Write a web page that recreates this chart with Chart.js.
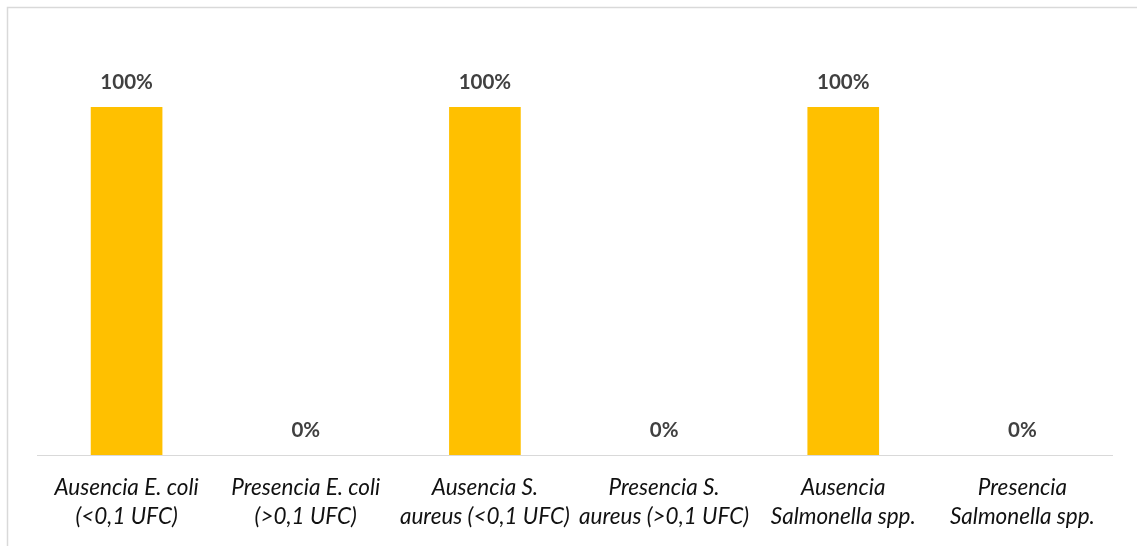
<!DOCTYPE html>
<html>
<head>
<meta charset="utf-8">
<script src="https://cdn.jsdelivr.net/npm/chart.js@4/dist/chart.umd.min.js"></script>
<style>
  html, body { margin: 0; padding: 0; background: #ffffff; }
  #wrap { width: 1137px; height: 546px; position: relative; }
</style>
</head>
<body>
<div id="wrap"><canvas id="c" width="1137" height="546"></canvas></div>
<script>
// Categories (two-line labels) and percentages
const categories = [
  ['Ausencia E. coli', '(<0,1 UFC)'],
  ['Presencia E. coli', '(>0,1 UFC)'],
  ['Ausencia S.', 'aureus (<0,1 UFC)'],
  ['Presencia S.', 'aureus (>0,1 UFC)'],
  ['Ausencia', 'Salmonella spp.'],
  ['Presencia', 'Salmonella spp.']
];
const percentages = [100, 0, 100, 0, 100, 0];

// Outer frame of the chart
const framePlugin = {
  id: 'frame',
  beforeDraw(chart) {
    const ctx = chart.ctx;
    ctx.save();
    ctx.strokeStyle = '#d9d9d9';
    ctx.lineWidth = 1.5;
    ctx.strokeRect(7.5, 7.5, chart.width + 20, chart.height + 20);
    ctx.restore();
  }
};

// Value labels above each bar
const valueLabels = {
  id: 'valueLabels',
  afterDatasetsDraw(chart) {
    const ctx = chart.ctx;
    const meta = chart.getDatasetMeta(0);
    ctx.save();
    ctx.font = 'bold 20.5px Lato, "Open Sans", sans-serif';
    ctx.fillStyle = '#404040';
    ctx.textAlign = 'center';
    ctx.textBaseline = 'middle';
    meta.data.forEach((bar, i) => {
      ctx.fillText(percentages[i] + '%', bar.x, bar.y - 25);
    });
    ctx.restore();
  }
};

new Chart(document.getElementById('c'), {
  type: 'bar',
  data: {
    labels: categories,
    datasets: [{
      data: percentages,
      backgroundColor: '#FFC000',
      borderWidth: 0,
      categoryPercentage: 1.0,
      barPercentage: 0.4
    }]
  },
  options: {
    responsive: false,
    animation: false,
    devicePixelRatio: 1,
    layout: { padding: { left: 37, right: 25, top: 107, bottom: 0 } },
    plugins: {
      legend: { display: false },
      tooltip: { enabled: false }
    },
    scales: {
      y: {
        display: false,
        min: 0,
        max: 100
      },
      x: {
        grid: { display: false, drawTicks: false },
        border: { display: true, color: '#d9d9d9', width: 1 },
        ticks: {
          color: '#111111',
          padding: 18,
          maxRotation: 0,
          autoSkip: false,
          font: { family: 'Lato, "Open Sans", sans-serif', size: 22.5, style: 'italic', lineHeight: 1.3 }
        },
        afterFit(scale) { scale.height = 91; }
      }
    }
  },
  plugins: [framePlugin, valueLabels]
});
</script>
</body>
</html>
